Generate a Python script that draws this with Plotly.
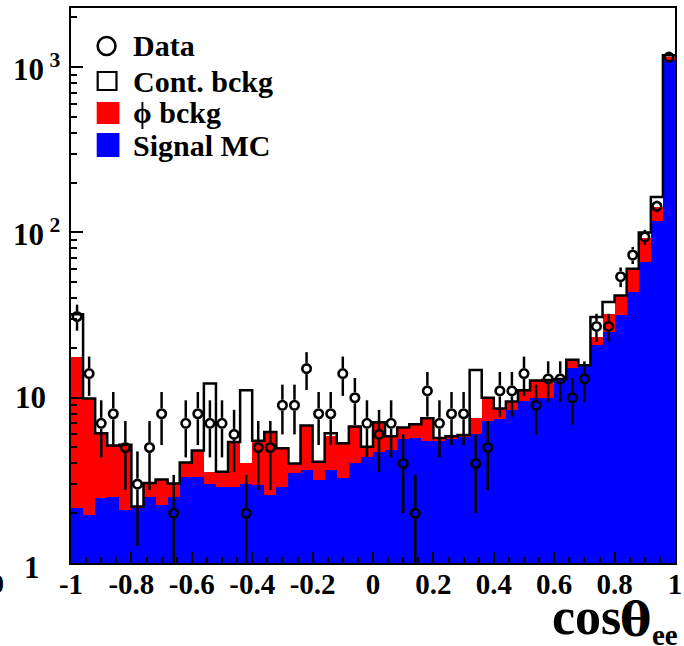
import math
import plotly.graph_objects as go

# ---------------- data ----------------
bin_lo, bin_hi, n_bins = -1.0, 1.0, 50

signal_mc = [2.14, 1.95, 2.48, 2.52, 2.09, 2.15, 2.5, 2.24, 2.52, 3.32,
             3.32, 3.0, 2.89, 2.9, 3.0, 2.96, 2.57, 2.89, 3.48, 3.65,
             3.17, 3.65, 3.25, 4.0, 4.4, 4.7, 4.8, 5.66, 5.7, 5.5,
             5.5, 5.66, 5.75, 6.0, 7.2, 7.4, 8.4, 9.6, 9.9, 9.9,
             12.8, 15.2, 15.5, 20.8, 25, 31.5, 43.6, 66, 118, 1100]
phi_bckg = [15.46, 7.95, 3.62, 2.62, 3.11, 0.05, 0.55, 0.96, 0.51, 0.73,
            1.48, 0.56, 0.67, 2.5, 1.0, 2.54, 3.63, 2.06, 0.52, 3.15,
            0.93, 2.25, 2.05, 2.7, 0.65, 2.4, 1.05, 0.94, 1.2, 2.0,
            0.15, 0.14, 0.15, 1.5, 2.8, 1.2, 1.1, 1.5, 2.8, 2.9,
            0.2, 1.8, 0.2, 2.5, 7, 10.1, 16.8, 27, 25, 60]
cont_bckg = [14.4, 0, 0, 0, 0, 0, 0, 0, 0, 0,
             0, 8.64, 0, 0, 7.1, 0, 0, 0, 0, 0,
             0, 0.2, 0, 0, 0, 0, 0, 0, 0, 0,
             0.05, 0.05, 0.05, 7.2, 0, 0, 0, 0, 0, 0,
             0, 0, 0, 7.5, 6, 0, 0, 7, 21, 20]
data_counts = [31, 14, 7, 8, 5, 3, 5, 8, 2, 7,
               8, 7, 7, 6, 2, 5, 5, 9, 9, 15,
               8, 8, 14, 10, 7, 6, 7, 4, 2, 11,
               7, 8, 8, 4, 5, 11, 11, 14, 9, 13,
               13, 10, 13, 27, 27, 54, 73, 94, 144, 1150]

x_tick_vals = [-1, -0.8, -0.6, -0.4, -0.2, 0, 0.2, 0.4, 0.6, 0.8, 1]
x_tick_text = ["-1", "-0.8", "-0.6", "-0.4", "-0.2", "0", "0.2", "0.4", "0.6", "0.8", "1"]
y_label_vals = [1, 10, 100, 1000]
y_label_text = ["1", "10", "10<sup> 2</sup>", "10<sup> 3</sup>"]
legend_names = ["Data", "Cont. bckg", "\u03d5 bckg", "Signal MC"]
x_title_parts = ["cos", "\u03b8", "ee"]

# ---------------- derived ----------------
width = (bin_hi - bin_lo) / n_bins
centers = [bin_lo + width * (i + 0.5) for i in range(n_bins)]
edges = [bin_lo + width * i for i in range(n_bins + 1)]
stack_red = [s + p for s, p in zip(signal_mc, phi_bckg)]
stack_tot = [r + c for r, c in zip(stack_red, cont_bckg)]

W, H = 684, 646
L, R, T, B = 71, 2, 8, 83
PW, PH = W - L - R, H - T - B
YTOP = 3.358  # log10 of top of axis
DEC = PH / YTOP  # pixels per decade

def px2x(px):
    return (px - L) / PW

def px2y(py):
    return (H - B - py) / PH

FONT = "Liberation Serif"
BOLD = dict(family=FONT, color="black", weight="bold")

fig = go.Figure()

# cumulative stacked histograms (ROOT THStack style)
fig.add_trace(go.Bar(x=centers, y=stack_red, width=width, marker=dict(color="#ff0000", line=dict(width=0)),
                     showlegend=False, hoverinfo="skip"))
fig.add_trace(go.Bar(x=centers, y=signal_mc, width=width, marker=dict(color="#0000ff", line=dict(width=0)),
                     showlegend=False, hoverinfo="skip"))
# outline of the total
fig.add_trace(go.Scatter(x=edges, y=stack_tot + [stack_tot[-1]], mode="lines",
                         line=dict(color="black", width=2.5, shape="hv"),
                         showlegend=False, hoverinfo="skip"))

# data error bars (with a gap around the marker as in ROOT)
gap = 10 ** (5.5 / DEC)
ex, ey = [], []
for c, n in zip(centers, data_counts):
    e = math.sqrt(n)
    hi = n + e
    lo = n - e if n - e > 0 else 1e-3
    if hi > n * gap:
        ex += [c, c, None]
        ey += [n * gap, hi, None]
    if lo < n / gap:
        ex += [c, c, None]
        ey += [n / gap, lo, None]
fig.add_trace(go.Scatter(x=ex, y=ey, mode="lines", line=dict(color="black", width=2.5),
                         showlegend=False, hoverinfo="skip"))
fig.add_trace(go.Scatter(x=centers, y=data_counts, mode="markers",
                         marker=dict(symbol="circle-open", size=8.5, color="black",
                                     line=dict(width=2.6, color="black")),
                         showlegend=False, hoverinfo="skip"))

shapes = []
annotations = []

# legend (manual, ROOT TLegend look)
leg_y = [46, 81, 113, 145]
shapes.append(dict(type="circle", xref="paper", yref="paper",
                   x0=px2x(98), x1=px2x(116), y0=px2y(leg_y[0] + 9), y1=px2y(leg_y[0] - 9),
                   line=dict(color="black", width=2.6), fillcolor="rgba(0,0,0,0)"))
shapes.append(dict(type="rect", xref="paper", yref="paper",
                   x0=px2x(98), x1=px2x(117), y0=px2y(leg_y[1] + 9), y1=px2y(leg_y[1] - 9),
                   line=dict(color="black", width=2.2), fillcolor="white"))
shapes.append(dict(type="rect", xref="paper", yref="paper",
                   x0=px2x(97), x1=px2x(120), y0=px2y(leg_y[2] + 11), y1=px2y(leg_y[2] - 11),
                   line=dict(width=0), fillcolor="#ff0000"))
shapes.append(dict(type="rect", xref="paper", yref="paper",
                   x0=px2x(97), x1=px2x(120), y0=px2y(leg_y[3] + 12), y1=px2y(leg_y[3] - 12),
                   line=dict(width=0), fillcolor="#0000ff"))
for name, yy in zip(legend_names, leg_y):
    annotations.append(dict(text=name, xref="paper", yref="paper", x=px2x(132), y=px2y(yy),
                            xanchor="left", yanchor="middle", showarrow=False,
                            font=dict(size=30, **BOLD)))

# y tick labels (placed as in ROOT)
for v, t in zip(y_label_vals, y_label_text):
    if v == 1:
        xr, yy = 42, 567
    elif v == 10:
        xr, yy = 48, 563 - DEC * math.log10(v)
    else:
        xr, yy = 62, 563 - DEC * math.log10(v)
    annotations.append(dict(text=t, xref="paper", yref="paper", x=px2x(xr), y=px2y(yy),
                            xanchor="right", yanchor="middle", showarrow=False,
                            font=dict(size=31, **BOLD)))

# clipped fragment at the left border
annotations.append(dict(text="0", xref="paper", yref="paper", x=px2x(5), y=px2y(583),
                        xanchor="right", yanchor="middle", showarrow=False,
                        font=dict(size=28, **BOLD)))

# x axis title: cos theta_ee
annotations.append(dict(text=x_title_parts[0], xref="paper", yref="paper", x=px2x(556), y=px2y(617),
                        xanchor="left", yanchor="middle", showarrow=False,
                        font=dict(family=FONT, size=52, color="black", weight="bold")))
annotations.append(dict(text=x_title_parts[1], xref="paper", yref="paper", x=px2x(624), y=px2y(619),
                        xanchor="left", yanchor="middle", showarrow=False,
                        font=dict(family="DejaVu Serif", size=47, color="black", weight="bold")))
annotations.append(dict(text=x_title_parts[2], xref="paper", yref="paper", x=px2x(657), y=px2y(635),
                        xanchor="left", yanchor="middle", showarrow=False,
                        font=dict(family=FONT, size=29, color="black", weight="bold")))

fig.update_layout(
    width=W, height=H,
    margin=dict(l=L, r=R, t=T, b=B, pad=0),
    paper_bgcolor="white", plot_bgcolor="white",
    barmode="overlay", bargap=0,
    showlegend=False,
    shapes=shapes, annotations=annotations,
    xaxis=dict(range=[bin_lo, bin_hi], tickmode="array", tickvals=x_tick_vals, ticktext=x_tick_text,
               ticks="inside", ticklen=11, tickwidth=1.5, tickcolor="black",
               minor=dict(dtick=0.05, tick0=-1, ticks="inside", ticklen=6, tickwidth=1.5,
                          tickcolor="black", showgrid=False),
               showline=True, linewidth=2, linecolor="black", mirror=True, showgrid=False, zeroline=False,
               tickfont=dict(size=29, **BOLD), ticklabelstandoff=-6, ticklabeloverflow="allow"),
    yaxis=dict(type="log", range=[0, YTOP], tickmode="array", tickvals=y_label_vals, showticklabels=False,
               ticks="inside", ticklen=12, tickwidth=1.5, tickcolor="black",
               minor=dict(ticks="inside", ticklen=6, tickwidth=1.5, tickcolor="black", dtick="D1", showgrid=False),
               showline=True, linewidth=2, linecolor="black", mirror=True, showgrid=False, zeroline=False),
)

fig.write_html("out.html", config={"displayModeBar": False},
               post_script="document.body.style.margin='0';document.body.style.padding='0';"
                           "document.documentElement.style.overflow='hidden';")
